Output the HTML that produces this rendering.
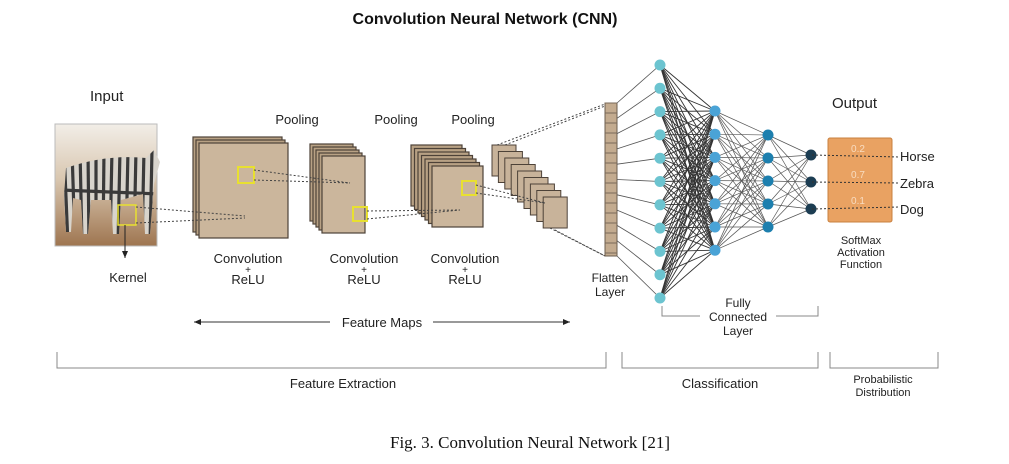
<!DOCTYPE html>
<html><head><meta charset="utf-8"><style>
html,body{margin:0;padding:0;background:#fff;}
svg{display:block;font-family:"Liberation Sans",sans-serif;}
</style></head><body>
<svg id="s" width="1009" height="464" viewBox="0 0 1009 464" xmlns="http://www.w3.org/2000/svg">
<defs>
<linearGradient id="ig" x1="0" y1="0" x2="0" y2="1">
<stop offset="0" stop-color="#f2eee8"/><stop offset="0.45" stop-color="#d9c7b0"/><stop offset="1" stop-color="#9e7550"/>
</linearGradient>
<clipPath id="zc"><path d="M66,168 q40,-14 80,-10 l8,-8 l6,12 l-6,22 l-4,50 l-5,0 l-2,-40 l-22,6 l-2,34 l-6,0 l-2,-34 l-20,0 l-3,34 l-5,0 l-2,-34 l-8,-2 l-2,34 l-5,0 l-2,-36z"/></clipPath>
<marker id="ar" markerWidth="8" markerHeight="8" refX="7" refY="4" orient="auto"><path d="M0,1 L7,4 L0,7z" fill="#222"/></marker>
</defs>
<text x="485" y="24" text-anchor="middle" font-size="16" font-weight="bold" fill="#111">Convolution  Neural  Network (CNN)</text>
<text x="90" y="101" font-size="15" fill="#222">Input</text>
<text x="832" y="108" font-size="15" fill="#222">Output</text>
<rect x="55" y="124" width="102" height="122" fill="url(#ig)" stroke="#bbb"/>
<g clip-path="url(#zc)">
<rect x="60" y="145" width="105" height="100" fill="#d8d4cc"/>
<g stroke="#3a3a3a" stroke-width="3.2">
<line x1="64" y1="150" x2="68" y2="245"/><line x1="72" y1="150" x2="75" y2="245"/><line x1="80" y1="150" x2="82" y2="245"/><line x1="88" y1="150" x2="89" y2="245"/><line x1="96" y1="150" x2="96" y2="245"/><line x1="104" y1="150" x2="103" y2="245"/><line x1="112" y1="150" x2="110" y2="245"/><line x1="120" y1="150" x2="118" y2="245"/><line x1="128" y1="150" x2="126" y2="245"/><line x1="136" y1="150" x2="134" y2="245"/><line x1="144" y1="150" x2="142" y2="245"/><line x1="152" y1="150" x2="150" y2="245"/><line x1="60" y1="190" x2="160" y2="194"/>
</g></g>
<rect x="118" y="205" width="18" height="20" fill="none" stroke="#e8e030" stroke-width="1.5"/>
<line x1="125" y1="225" x2="125" y2="258" stroke="#222" marker-end="url(#ar)"/>
<text x="128" y="282" text-anchor="middle" font-size="13" fill="#222">Kernel</text>
<g id="stacks"></g>
<g font-size="13" fill="#222" text-anchor="middle">
<text x="297" y="124">Pooling</text><text x="396" y="124">Pooling</text><text x="473" y="124">Pooling</text>
<text x="248" y="263">Convolution</text><text x="248" y="273" font-size="10">+</text><text x="248" y="284">ReLU</text>
<text x="364" y="263">Convolution</text><text x="364" y="273" font-size="10">+</text><text x="364" y="284">ReLU</text>
<text x="465" y="263">Convolution</text><text x="465" y="273" font-size="10">+</text><text x="465" y="284">ReLU</text>
<text x="610" y="282" font-size="12">Flatten</text><text x="610" y="296" font-size="12">Layer</text>
<text x="738" y="307" font-size="12">Fully</text><text x="738" y="321" font-size="12">Connected</text><text x="738" y="335" font-size="12">Layer</text>
<text x="861" y="244" font-size="11">SoftMax</text><text x="861" y="256" font-size="11">Activation</text><text x="861" y="268" font-size="11">Function</text>
<text x="382" y="327">Feature  Maps</text>
<text x="343" y="388">Feature Extraction</text>
<text x="720" y="388">Classification</text>
<text x="883" y="383" font-size="11">Probabilistic</text><text x="883" y="396" font-size="11">Distribution</text>
</g>
<line x1="330" y1="322" x2="194" y2="322" stroke="#333" marker-end="url(#ar)"/>
<line x1="433" y1="322" x2="570" y2="322" stroke="#333" marker-end="url(#ar)"/>
<g stroke="#888" fill="none" stroke-width="1">
<path d="M57,352 V368 H606 V352"/><path d="M622,352 V368 H818 V352"/><path d="M830,352 V368 H938 V352"/>
<path d="M662,306 V316 H700 M776,316 H818 V306"/>
</g>
<g id="net"></g>
<rect x="828" y="138" width="64" height="84" rx="2" fill="#e9a262" stroke="#c8803f"/>
<g font-size="10" fill="#f8dcc0" text-anchor="middle"><text x="858" y="152">0.2</text><text x="858" y="178">0.7</text><text x="858" y="204">0.1</text></g>
<g font-size="13" fill="#222"><text x="900" y="161">Horse</text><text x="900" y="188">Zebra</text><text x="900" y="214">Dog</text></g>
<g stroke="#333" stroke-dasharray="2,2"><line x1="812" y1="155" x2="900" y2="157"/><line x1="812" y1="182" x2="900" y2="183"/><line x1="812" y1="209" x2="900" y2="207"/></g>
<text x="530" y="448" text-anchor="middle" font-family="Liberation Serif,serif" font-size="17" fill="#111">Fig. 3.  Convolution Neural Network [21]</text>
</svg>
<script>
var NS="http://www.w3.org/2000/svg";
function el(p,t,a){var e=document.createElementNS(NS,t);for(var k in a)e.setAttribute(k,a[k]);p.appendChild(e);return e;}
var st=document.getElementById("stacks");
function stack(x,y,w,h,n,dx,dy){for(var i=n-1;i>=0;i--){el(st,"rect",{x:x-i*dx,y:y-i*dy,width:w,height:h,fill:i==0?"#cbb69c":"#b8a184",stroke:"#4d4238","stroke-width":1.2});}}
stack(199,143,89,95,3,3,3);
stack(322,156,43,77,5,3,3);
stack(432,166,51,61,7,3.5,3.5);
for(var i=0;i<9;i++){el(st,"rect",{x:492+i*6.4,y:145+i*6.5,width:24,height:31,fill:"#c8b39a",stroke:"#4d4238","stroke-width":1});}
[[238,167,16],[353,207,14],[462,181,14]].forEach(function(q){el(st,"rect",{x:q[0],y:q[1],width:q[2],height:q[2],fill:"none",stroke:"#e8e030","stroke-width":2});});
var dl=[[136,207,245,216],[136,223,245,218],[254,170,350,183],[254,180,350,183],[367,211,460,210],[367,219,460,210],[476,185,545,203],[476,193,545,203],[497,145,605,104],[505,145,605,106],[550,228,605,256],[555,230,605,256]];
dl.forEach(function(l){el(st,"line",{x1:l[0],y1:l[1],x2:l[2],y2:l[3],stroke:"#444","stroke-dasharray":"2,2"});});
el(st,"rect",{x:605,y:103,width:12,height:153,fill:"#c3ab8f",stroke:"#6b5c4e"});
for(var y=103;y<256;y+=10)el(st,"line",{x1:605,y1:y,x2:617,y2:y,stroke:"#7a6a5a"});
var net=document.getElementById("net");
var L1=[],L2=[],L3=[],L4=[];
for(var i=0;i<11;i++)L1.push([660,65+i*23.3]);
for(var i=0;i<7;i++)L2.push([715,111+i*23.2]);
for(var i=0;i<5;i++)L3.push([768,135+i*23]);
for(var i=0;i<3;i++)L4.push([811,155+i*27]);
for(var i=0;i<11;i++)el(net,"line",{x1:617,y1:103+i*15.3,x2:L1[i][0],y2:L1[i][1],stroke:"#555","stroke-width":0.8});
function conn(A,B,c,w){A.forEach(function(a){B.forEach(function(b){el(net,"line",{x1:a[0],y1:a[1],x2:b[0],y2:b[1],stroke:c,"stroke-width":w});});});}
conn(L1,L2,"#333",0.9);conn(L2,L3,"#555",0.7);conn(L3,L4,"#555",0.7);
function nodes(L,c){L.forEach(function(p){el(net,"circle",{cx:p[0],cy:p[1],r:5.5,fill:c});});}
nodes(L1,"#6cc4d0");nodes(L2,"#4aa3d6");nodes(L3,"#1d7fae");nodes(L4,"#1c3d52");
</script>
</body></html>
